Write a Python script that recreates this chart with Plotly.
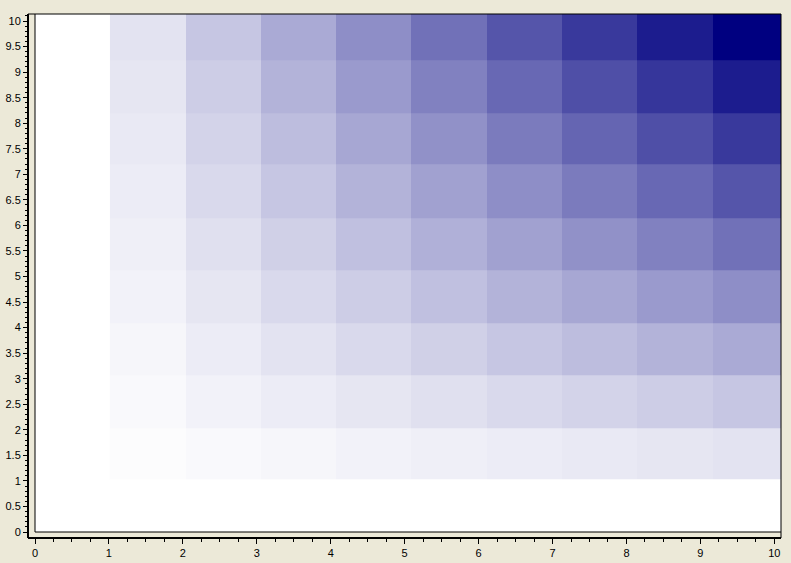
import plotly.graph_objects as go

# Grid cell edges (data units)
x_edges = [1.014, 2.042, 3.057, 4.071, 5.086, 6.114, 7.128, 8.143, 9.171, 10.19]
y_edges = [1.037, 2.035, 3.072, 4.090, 5.127, 6.145, 7.202, 8.200, 9.237, 10.25]

row1 = [1, 2, 3, 4, 5, 6, 7, 8, 9]
row2 = [2, 4, 6, 8, 10, 12, 14, 16, 18]
row3 = [3, 6, 9, 12, 15, 18, 21, 24, 27]
row4 = [4, 8, 12, 16, 20, 24, 28, 32, 36]
row5 = [5, 10, 15, 20, 25, 30, 35, 40, 45]
row6 = [6, 12, 18, 24, 30, 36, 42, 48, 54]
row7 = [7, 14, 21, 28, 35, 42, 49, 56, 63]
row8 = [8, 16, 24, 32, 40, 48, 56, 64, 72]
row9 = [9, 18, 27, 36, 45, 54, 63, 72, 81]
z = [row1, row2, row3, row4, row5, row6, row7, row8, row9]

BG = "#ECE9D8"
W, H = 791, 563
ml, mr, mt, mb = 28, 10, 14, 25
pw = W - ml - mr
ph = H - mt - mb
ex = 7 / pw
ey = 6 / ph

fig = go.Figure(go.Heatmap(
    x=x_edges, y=y_edges, z=z,
    zmin=0, zmax=81,
    colorscale=[[0, "#FFFFFF"], [1, "#000080"]],
    showscale=False,
    hoverinfo="skip",
))

font = dict(family="Liberation Sans, Arial, sans-serif", size=11, color="#000000")

fig.update_layout(
    width=W, height=H,
    margin=dict(l=ml, r=mr, t=mt, b=mb, pad=0, autoexpand=False),
    paper_bgcolor=BG,
    plot_bgcolor="#FFFFFF",
    font=font,
    showlegend=False,
    xaxis=dict(
        domain=[ex, 1], anchor="free", position=0, automargin=False,
        range=[0, 10.09], dtick=1, tick0=0,
        showgrid=False, zeroline=False,
        showline=True, linecolor="#000000", linewidth=2,
        ticks="outside", ticklen=5, tickwidth=1, tickcolor="#000000",
        minor=dict(dtick=0.25, tick0=0, ticks="outside", ticklen=3,
                   tickcolor="#000000", showgrid=False),
        tickfont=font,
    ),
    yaxis=dict(
        domain=[ey, 1], anchor="free", position=0, automargin=False,
        range=[0, 10.137], dtick=0.5, tick0=0,
        showgrid=False, zeroline=False,
        showline=True, linecolor="#000000", linewidth=2,
        ticks="outside", ticklen=4, tickwidth=1, tickcolor="#000000",
        minor=dict(dtick=0.1, tick0=0, ticks="outside", ticklen=2,
                   tickcolor="#000000", showgrid=False),
        tickfont=font,
    ),
    shapes=[
        dict(type="rect", xref="x domain", yref="y domain", x0=0, x1=1, y0=0, y1=1,
             line=dict(color="#000000", width=1), layer="above"),
        dict(type="line", xref="paper", yref="paper", x0=0, x1=0, y0=0, y1=ey,
             line=dict(color="#000000", width=2)),
        dict(type="line", xref="paper", yref="paper", x0=0, x1=ex, y0=0, y1=0,
             line=dict(color="#000000", width=2)),
        dict(type="line", xref="paper", yref="paper", x0=0, x1=ex, y0=1, y1=1,
             line=dict(color="#000000", width=1)),
        dict(type="line", xref="paper", yref="paper", x0=1, x1=1, y0=0, y1=ey,
             line=dict(color="#000000", width=1)),
    ],
)

fig.write_html(
    "out.html",
    config={"displayModeBar": False, "staticPlot": True},
    post_script="document.body.style.margin='0';document.body.style.overflow='hidden';",
)
